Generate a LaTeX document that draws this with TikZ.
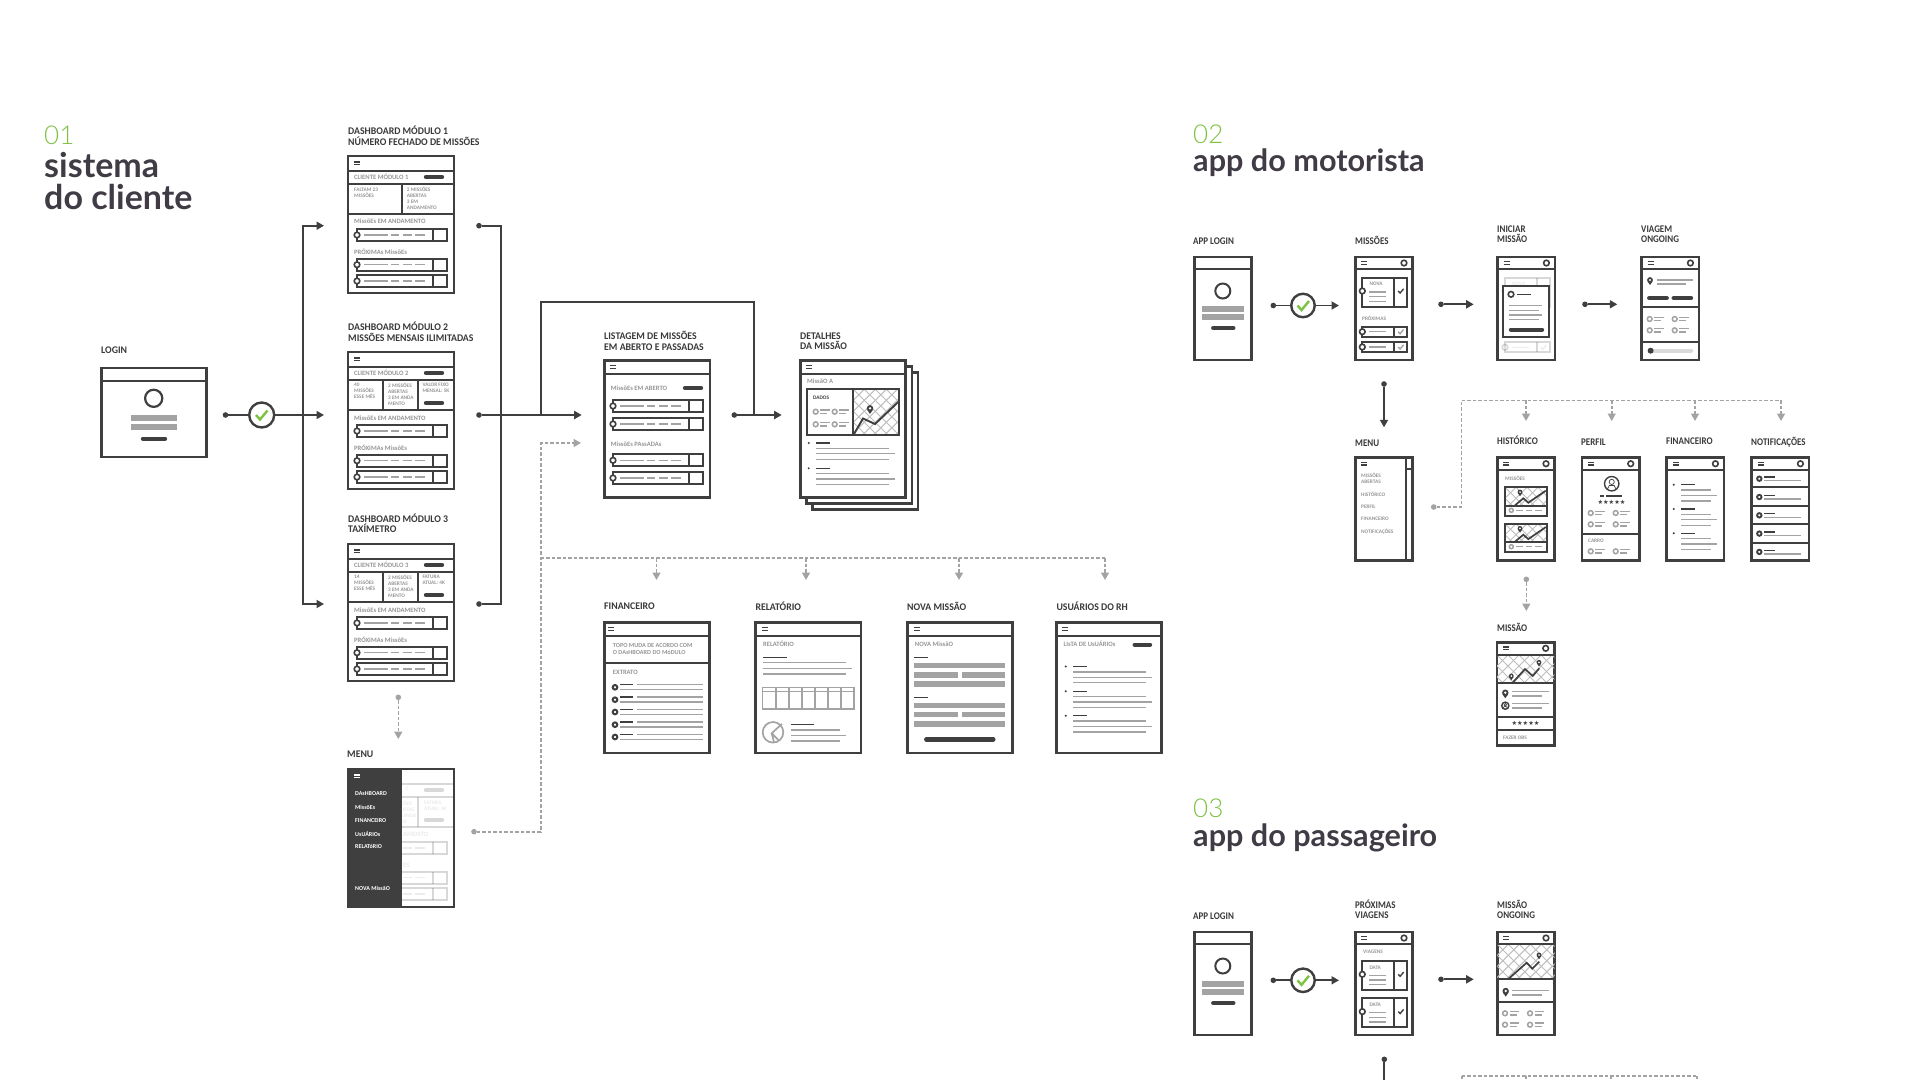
\documentclass[tikz,border=0pt]{standalone}
\usepackage{fontspec}
\setmainfont{Carlito}
\newfontfamily\titlefont{Lato}
\newfontfamily\numfont{Lato Light}
\newfontfamily\labelfont[FakeStretch=0.96]{Carlito}
\newfontfamily\applabelfont[FakeStretch=0.88]{Carlito}
\newfontfamily\starfont{DejaVu Sans}
\usepackage{xcolor}
\usetikzlibrary{arrows.meta, positioning}
\definecolor{ink}{HTML}{3F3F3F}
\definecolor{midgrey}{HTML}{A3A3A3}
\definecolor{textgrey}{HTML}{969696}
\definecolor{titleink}{HTML}{403B44}
\definecolor{leaf}{HTML}{7DC242}
\newcounter{wtnum}
\tikzset{%
	autoname/.code={\stepcounter{wtnum}\tikzset{name=wt\arabic{wtnum}}},
	screen/.style={
		rectangle,
		draw=ink,
		fill=white,
		line width=2.7pt,
		outer sep=0pt,
		inner sep=0pt,
		anchor=north west
	},
	wire/.style={draw=ink, line width=2.2pt},
	thin wire/.style={draw=ink, line width=1.9pt},
	label/.style={font=\labelfont\bfseries\fontsize{10.2}{10.6}\selectfont, text=ink!90!black, anchor=west, inner sep=0pt, align=left},
	app label/.style={label, font=\applabelfont\bfseries\fontsize{10.2}{10.6}\selectfont},
	wtext/.style={autoname, font=\bfseries\fontsize{6.6}{7}\selectfont, text=textgrey, anchor=west, inner sep=0pt, align=left},
	wsmall/.style={autoname, font=\bfseries\fontsize{5.3}{6}\selectfont, text=textgrey, anchor=north west, inner sep=0pt, align=left},
	section num/.style={font=\numfont\fontsize{26}{26}\selectfont, text=leaf, anchor=base west, inner sep=0pt},
	section title/.style={font=\titlefont\bfseries\fontsize{34}{32}\selectfont, text=titleink, anchor=base west, inner sep=0pt, align=left},
	app title/.style={section title, font=\titlefont\bfseries\fontsize{30.6}{32}\selectfont},
	flow dot/.style={circle, fill=ink, minimum size=5.6pt, inner sep=0pt, outer sep=0pt},
	grey dot/.style={circle, fill=midgrey, minimum size=5.6pt, inner sep=0pt, outer sep=0pt},
	ok ring/.style={circle, draw=ink, fill=white, line width=2.4pt, minimum size=25pt, inner sep=0pt, outer sep=0pt},
	line/.style={draw=ink, line width=1.8pt},
	arrow/.style={line, -{Triangle[length=7.5pt,width=8pt]}},
	dash line/.style={draw=midgrey, line width=1.6pt, dash pattern=on 3.5pt off 2pt},
	dash arrow/.style={dash line, -{Triangle[length=7.5pt,width=8pt]}}
}
\newcommand{\screen}[5]{\node[screen, minimum width={((#4)-(#2))*1pt}, minimum height={((#5)-(#3))*1pt}] (#1) at (#2,#3) {};}
\newcommand{\lbl}[4]{\node[label] (#1) at (#2,#3) {#4};}
\newcommand{\applbl}[4]{\node[app label] (#1) at (#2,#3) {#4};}
\newcommand{\wt}[3]{\node[wtext] at (#1,#2) {#3};}
\newcommand{\ws}[3]{\node[wsmall] at (#1,#2) {#3};}
\newcommand{\burger}[3][ink]{\draw[#1, line width=1.3pt] (#2-3,#3-1.3) -- (#2+3,#3-1.3) (#2-3,#3+1.3) -- (#2+3,#3+1.3);}
\newcommand{\ringmark}[2]{\draw[ink, fill=white, line width=1.6pt] (#1,#2) circle (2.8);}
\newcommand{\gline}[3]{\draw[midgrey, line width=1.3pt] (#1,#3) -- (#2,#3);}
\newcommand{\dline}[3]{\draw[ink, line width=1.3pt] (#1,#3) -- (#2,#3);}
\newcommand{\gbar}[4]{\fill[midgrey] (#1,#2) rectangle (#3,#4);}
\newcommand{\pill}[3]{\draw[ink, line width=4.4pt, line cap=round] (#1+2,#3) -- (#2-2,#3);}
\newcommand{\tickmark}[3]{\draw[#3, line width=1.4pt] (#1-2.6,#2) -- (#1-0.7,#2+2) -- (#1+2.8,#2-2.2);}
\newcommand{\listrow}[2]{%
	\draw[thin wire] (#1,#2-6) rectangle (#1+90,#2+6);
	\draw[thin wire] (#1+76,#2-6) -- (#1+76,#2+6);
	\gline{#1+7}{#1+31}{#2}
	\gline{#1+34}{#1+42}{#2}
	\gline{#1+46}{#1+55}{#2}
	\gline{#1+58}{#1+68}{#2}
	\ringmark{#1}{#2}
}
\newcommand{\iconrow}[2]{%
	\draw[midgrey, line width=1.5pt] (#1,#2) circle (2.4);
	\gline{#1+4.5}{#1+14}{#2-1.7}
	\gline{#1+4.5}{#1+11.5}{#2+1.7}
}
\newcommand{\infoblock}[3]{%
	\fill[ink] (#1,#2) circle (1.1);
	\dline{#1+7.5}{#1+21}{#2}
	\gline{#1+7.5}{#1+7.5+#3}{#2+5.4}
	\gline{#1+7.5}{#1+13.5+#3}{#2+10.8}
	\gline{#1+7.5}{#1+7.5+#3}{#2+16.2}
}
\newcommand{\hatchmap}[4]{%
	\begin{scope}
		\clip (#1,#2) rectangle (#3,#4);
		\foreach \k in {-8,...,16} {
			\draw[midgrey!70, line width=0.9pt] ({#1+\k*11},#2) -- ({#1+\k*11+((#4)-(#2))},#4);
			\draw[midgrey!70, line width=0.9pt] ({#1+\k*11},#2) -- ({#1+\k*11-((#4)-(#2))},#4);
		}
	\end{scope}
}
\newcommand{\pin}[3]{%
	\begin{scope}[shift={(#1,#2)}, scale=#3]
		\fill[ink] (0,0) circle (3.2);
		\fill[ink] (-2.9,1.4) -- (0,5.6) -- (2.9,1.4) -- cycle;
		\fill[white] (0,0) circle (1.3);
	\end{scope}
}
\newcommand{\usericon}[3]{%
	\begin{scope}[shift={(#1,#2)}, scale=#3]
		\draw[ink, line width=1.4pt] (0,0) circle (3.6);
		\draw[ink, line width=0.7pt] (0,-0.9) circle (1.3) (-2.1,2.6) -- (-1.2,0.9) -- (1.2,0.9) -- (2.1,2.6);
	\end{scope}
}
\newcommand{\fivestars}[3]{\node[autoname, font=\starfont\fontsize{#3}{#3}\selectfont, text=ink, inner sep=0pt] at (#1,#2) {★★★★★};}
% dashboard parts, top edge as argument
\newcommand{\dashframe}[1]{%
	\draw[wire] (348,#1+14.7) -- (454,#1+14.7);
	\draw[wire] (348,#1+28) -- (454,#1+28);
	\draw[wire] (348,#1+58) -- (454,#1+58);
	\listrow{357}{#1+79}
	\listrow{357}{#1+108.7}
	\listrow{357}{#1+125}
	\pill{424}{444}{#1+21}
}
\newcommand{\dashtext}[1]{%
	\wt{354}{#1+65.7}{MissõEs EM ANDAMENTO}
	\wt{354}{#1+95.7}{PRÓXIMAs MissõEs}
}
\newcommand{\dashcols}[1]{%
	\draw[wire] (383,#1+28) -- (383,#1+58);
	\draw[wire] (418,#1+28) -- (418,#1+58);
	\pill{424}{444}{#1+51}
}
% app phones
\newcommand{\phone}[3]{%
	\screen{#1}{#2}{#3}{#2+57.4}{#3+103}
	\draw[wire] (#2,#3+12.3) -- (#2+57.4,#3+12.3);
}
\newcommand{\phonebar}[2]{\burger{#1+9}{#2+6}\ringmark{#1+48.7}{#2+6}}
\newcommand{\applogin}[3]{%
	\phone{#1}{#2}{#3}
	\draw[ink, line width=2pt] (#2+28.5,#3+34) circle (7.5);
	\gbar{#2+8}{#3+48.5}{#2+49.5}{#3+54.5}
	\gbar{#2+8}{#3+56.5}{#2+49.5}{#3+62.5}
	\pill{#2+17}{#2+41}{#3+71}
}
\newcommand{\appcard}[3]{%
	\draw[thin wire] (#1,#2) rectangle (#1+44.7,#2+29);
	\draw[thin wire] (#1+32,#2) -- (#1+32,#2+29);
	\wt{#1+7}{#2+6.5}{\fontsize{5.3}{6}\selectfont #3}
	\gline{#1+7}{#1+24}{#2+14.3}
	\gline{#1+7}{#1+24}{#2+19}
	\gline{#1+7}{#1+24}{#2+23.7}
	\ringmark{#1}{#2+13.3}
	\tickmark{#1+38.5}{#2+13.3}{ink}
}
\newcommand{\approw}[2]{%
	\draw[thin wire] (#1,#2-5) rectangle (#1+44.7,#2+5);
	\draw[thin wire] (#1+32,#2-5) -- (#1+32,#2+5);
	\gline{#1+7}{#1+24}{#2}
	\ringmark{#1}{#2}
	\tickmark{#1+38.5}{#2}{midgrey}
}
\begin{document}
\begin{tikzpicture}[x=1pt, y=-1pt]
	\useasboundingbox (0,0) rectangle (1920,1080);
	% 01
	\node[section num] (num1) at (44,144) {01};
	\node[section title] (title1) at (44,209) {sistema\\do cliente};
	% login
	\screen{login}{101.2}{368}{206.5}{457}
	\draw[wire] (101,381) -- (206.7,381);
	\draw[ink, line width=2.2pt] (153.7,398.3) circle (8.6);
	\gbar{131}{415}{177}{421}
	\gbar{131}{424}{177}{430}
	\pill{141}{167}{438.7}
	\lbl{loginLbl}{101}{349.7}{LOGIN}
	% dashboards
	\screen{dashA}{348}{156}{454}{293}
	\dashframe{156}
	\dashtext{156}
	\draw[wire] (401.7,184) -- (401.7,214);
	\wt{354}{176.7}{CLIENTE MÓDULO 1}
	\ws{354}{187.5}{FALTAM 23\\MISSÕES}
	\ws{406.7}{187}{2 MISSÕES\\ABERTAS\\3 EM\\ANDAMENTO}
	\burger{357.3}{163.3}
	\lbl{dashALbl}{348}{136}{DASHBOARD MÓDULO 1\\NÚMERO FECHADO DE MISSÕES}

	\screen{dashB}{348}{352}{454}{489}
	\dashframe{352}
	\dashtext{352}
	\dashcols{352}
	\wt{354}{372.7}{CLIENTE MÓDULO 2}
	\ws{354}{383}{40\\MISSÕES\\ESSE MÊS}
	\ws{388}{383}{2 MISSÕES\\ABERTAS\\3 EM ANDA\\MENTO}
	\ws{422.3}{383}{VALOR FIXO\\MENSAL: 5K}
	\burger{357.3}{359.3}
	\lbl{dashBLbl}{348}{331.7}{DASHBOARD MÓDULO 2\\MISSÕES MENSAIS ILIMITADAS}

	\screen{dashC}{348}{544}{454}{681}
	\dashframe{544}
	\dashtext{544}
	\dashcols{544}
	\wt{354}{564.7}{CLIENTE MÓDULO 3}
	\ws{354}{575}{14\\MISSÕES\\ESSE MÊS}
	\ws{388}{575}{2 MISSÕES\\ABERTAS\\3 EM ANDA\\MENTO}
	\ws{422.3}{575}{FATURA\\ATUAL: 4K}
	\burger{357.3}{551.3}
	\lbl{dashCLbl}{348}{523.2}{DASHBOARD MÓDULO 3\\TAXÍMETRO}

	% menu over faded dashboard
	\screen{menu}{348}{769}{454}{907}
	\begin{scope}[opacity=.2]
		\dashframe{769}
		\dashcols{769}
		\ws{405}{787}{3}
		\ws{403}{801}{ÕES\\RTAS\\ANDA\\O}
		\ws{424}{801}{FATURA\\ATUAL: 4K}
		\wt{403}{834.5}{AMENTO}
		\wt{403}{865}{ES}
	\end{scope}
	\fill[ink] (346.6,767.6) rectangle (401.7,908.4);
	\burger[white]{357}{776.3}
	\foreach \y/\t in {793.3/DAsHBOARD, 807.5/MissõEs, 820.7/FINANCEIRO, 834/UsUÁRIOs, 846.7/RELATóRIO, 888.7/NOVA MissãO} {
		\node[wtext, text=white, font=\bfseries\fontsize{6}{7}\selectfont] at (355,\y) {\t};
	}
	\lbl{menuLbl}{347}{754}{MENU}

	% listagem
	\screen{listagem}{604.5}{360.5}{710}{497.5}
	\draw[wire] (604.5,374) -- (710,374);
	\burger{613.3}{367}
	\wt{610.7}{387.7}{MissõEs EM ABERTO}
	\pill{683}{703}{388}
	\listrow{613}{406}
	\listrow{613}{424}
	\wt{610.7}{443.7}{MissõEs PAssADAs}
	\listrow{613}{460.3}
	\listrow{613}{478}
	\lbl{listagemLbl}{604}{341}{LISTAGEM DE MISSÕES\\EM ABERTO E PASSADAS}

	% detalhes
	\screen{sheetC}{812.5}{372.5}{918}{509.5}
	\screen{sheetB}{806.5}{366.5}{912}{503.5}
	\screen{detalhes}{800.5}{360.5}{905.5}{497.5}
	\draw[wire] (800.5,374) -- (905.5,374);
	\burger{809.3}{367}
	\wt{807}{380.7}{MissãO A}
	\hatchmap{853.3}{389.3}{899}{435}
	\draw[wire] (806.7,389.3) rectangle (899,435);
	\draw[wire] (853.3,389.3) -- (853.3,435);
	\draw[ink, line width=1.9pt] (854,434) -- (863,418.5) -- (875,424) -- (898.5,401.7);
	\pin{870}{408.3}{1}
	\node[wtext, text=ink, font=\bfseries\fontsize{5.3}{6}\selectfont] at (813,398) {DADOS};
	\iconrow{815.7}{411.7}
	\iconrow{834.7}{411.7}
	\iconrow{815.7}{424.3}
	\iconrow{834.7}{424.3}
	\infoblock{808.7}{443}{73}
	\infoblock{808.7}{468.3}{73}
	\lbl{detalhesLbl}{800}{341}{DETALHES\\DA MISSÃO}

	% financeiro
	\screen{financeiro}{604.5}{622.2}{709.8}{753}
	\draw[wire] (604.5,635.7) -- (709.8,635.7);
	\draw[wire] (604.5,662.7) -- (709.8,662.7);
	\burger{611}{629}
	\wt{612.7}{645.7}{\fontsize{6.2}{7}\selectfont TOPO MUDA DE ACORDO COM}
	\wt{612.7}{652.7}{\fontsize{6.2}{7}\selectfont O DAsHBOARD DO MóDULO}
	\wt{612.7}{672.7}{EXTRATO}
	\foreach \y in {687.3,699.7,712,724.7,737} {
		\draw[ink, line width=2pt] (615,\y) circle (2.3);
		\dline{620}{633}{\y-2.7}
		\gline{637}{702.7}{\y-2.7}
		\gline{620}{702.7}{\y+2.3}
	}
	\lbl{financeiroLbl}{604}{606}{FINANCEIRO}

	% relatorio
	\screen{relatorio}{755.5}{622.2}{861}{753}
	\draw[wire] (755.5,635.7) -- (861,635.7);
	\burger{764.7}{629}
	\wt{763}{643.7}{RELATÓRIO}
	\dline{763}{787}{657.7}
	\gline{763}{845.7}{662.7}
	\gline{763}{851.7}{668.7}
	\gline{763}{845.7}{674}
	\draw[midgrey, line width=1.5pt] (762.7,687.3) rectangle (854,709);
	\draw[midgrey, line width=1.5pt] (762.7,691.7) -- (854,691.7);
	\foreach \i in {1,...,6} {
		\draw[midgrey, line width=1.5pt] ({762.7+\i*13.05},687.3) -- ({762.7+\i*13.05},709);
	}
	\draw[midgrey, line width=1.7pt] (773,732.3) circle (10.3);
	\draw[midgrey, line width=1.7pt] (782,723.8) -- (771.7,733.3) -- (778.3,740) (771.7,733.3) -- (774,742.5);
	\dline{790.7}{813.7}{724.3}
	\gline{790.7}{839.7}{730}
	\gline{790.7}{845.7}{735.3}
	\gline{790.7}{839.7}{741}
	\lbl{relatorioLbl}{755.3}{606}{RELATÓRIO}

	% nova missao
	\screen{novaMissao}{907.2}{622.2}{1012.8}{753}
	\draw[wire] (907.2,635.7) -- (1012.8,635.7);
	\burger{916.7}{629}
	\wt{914.7}{643.7}{NOVA MissãO}
	\dline{914}{928}{657.7}
	\gbar{914.3}{663}{1005.3}{668.3}
	\gbar{914.3}{672}{958}{677.7}
	\gbar{961.7}{672}{1005.3}{677.7}
	\gbar{914.3}{681.3}{1005.3}{686.7}
	\dline{914}{928}{697.3}
	\gbar{914.3}{703}{1005.3}{708.3}
	\gbar{914.3}{712}{958}{717.3}
	\gbar{961.7}{712}{1005.3}{717.3}
	\gbar{914.3}{721}{1005.3}{726.7}
	\pill{924.3}{995.3}{739.3}
	\lbl{novaMissaoLbl}{907}{606}{NOVA MISSÃO}

	% usuarios
	\screen{usuarios}{1056.2}{622.2}{1161.8}{753}
	\draw[wire] (1056.2,635.7) -- (1161.8,635.7);
	\burger{1065}{629}
	\wt{1063.3}{643.7}{LIsTA DE UsUÁRIOs}
	\pill{1132.7}{1152}{644.7}
	\infoblock{1065.8}{666.5}{72.7}
	\infoblock{1065.8}{691.2}{72.7}
	\infoblock{1065.8}{715.7}{72.7}
	\lbl{usuariosLbl}{1056.3}{606}{USUÁRIOS DO RH}

	% fluxo do sistema
	\node[flow dot] (loginOut) at (225.5,415) {};
	\node[ok ring] (loginOk) at (261.7,415) {};
	\draw[leaf, line width=2.4pt] (256,415) -- (260,419.5) -- (267.5,410.5);
	\coordinate (split) at (302.7,415);
	\coordinate (dashAIn) at (324,225.7);
	\coordinate (dashBIn) at (324,415);
	\coordinate (dashCIn) at (324,604);
	\draw[line] (loginOut) -- (loginOk);
	\draw[arrow] (loginOk) -- (dashBIn);
	\draw[arrow] (split) |- (dashAIn);
	\draw[arrow] (split) |- (dashCIn);
	\node[flow dot] (dashAOut) at (479,225.7) {};
	\node[flow dot] (dashBOut) at (479,415) {};
	\node[flow dot] (dashCOut) at (479,604) {};
	\coordinate (merge) at (501,415);
	\coordinate (listIn) at (581.7,415);
	\draw[line] (dashAOut) -| (merge);
	\draw[line] (dashCOut) -| (merge);
	\draw[arrow] (dashBOut) -- (listIn);
	\coordinate (loopA) at (540.7,415);
	\coordinate (loopUpA) at (540.7,301.7);
	\coordinate (loopUpB) at (754,301.7);
	\coordinate (loopB) at (754,415);
	\draw[line] (loopA) -- (loopUpA) -- (loopUpB) -- (loopB);
	\node[flow dot] (listOut) at (734.3,415) {};
	\coordinate (detalhesIn) at (781.7,415);
	\draw[arrow] (listOut) -- (detalhesIn);
	\node[grey dot] (dashCDown) at (398.3,697.3) {};
	\coordinate (menuIn) at (398.3,739);
	\draw[dash arrow] (dashCDown) -- (menuIn);
	\node[grey dot] (menuOut) at (474,831.7) {};
	\coordinate (menuCorner) at (540.7,831.7);
	\coordinate (listDash) at (581,443);
	\draw[dash arrow] (menuOut) -- (menuCorner) |- (listDash);
	\coordinate (branchEnd) at (1105,558);
	\draw[dash line] (540.7,558) -- (branchEnd);
	\foreach \n/\x in {financeiro/656.5, relatorio/806, nova/959, usuarios/1105} {
		\coordinate (drop\n) at (\x,558);
		\coordinate (tip\n) at (\x,580);
		\draw[dash arrow] (drop\n) -- (tip\n);
	}

	% 02
	\node[section num] (num2) at (1193,143) {02};
	\node[app title] (title2) at (1193,171) {app do motorista};
	\applogin{appLogin}{1194.3}{257}
	\applbl{appLoginLbl}{1193}{240.7}{APP LOGIN}
	\phone{missoes}{1355.3}{257}
	\phonebar{1355.3}{257}
	\appcard{1362.3}{277.7}{NOVA}
	\wt{1362}{318}{\fontsize{5.3}{6}\selectfont PRÓXIMAS}
	\approw{1362.3}{331.7}
	\approw{1362.3}{347}
	\applbl{missoesLbl}{1355}{240.7}{MISSÕES}
	\phone{iniciar}{1497.7}{257}
	\phonebar{1497.7}{257}
	\begin{scope}[opacity=.2]
		\appcard{1505}{277.7}{NOVA}
		\approw{1505}{347.3}
	\end{scope}
	\draw[wire, fill=white] (1503.3,286) rectangle (1549.3,337.3);
	\ringmark{1511}{294.3}
	\dline{1517}{1531}{294.3}
	\gline{1509}{1542}{305.7}
	\gline{1509}{1539}{310.3}
	\gline{1509}{1542}{315}
	\gline{1509}{1539}{319.7}
	\pill{1509}{1544}{329.7}
	\applbl{iniciarLbl}{1497}{234.2}{INICIAR\\MISSÃO}
	\phone{viagem}{1641.7}{257}
	\phonebar{1641.7}{257}
	\draw[wire] (1641.7,306.7) -- (1699.1,306.7);
	\draw[wire] (1641.7,341.7) -- (1699.1,341.7);
	\pin{1650}{280}{0.9}
	\gline{1657}{1693}{280}
	\gline{1657}{1686}{284}
	\pill{1647.3}{1668.7}{298}
	\pill{1671.7}{1693}{298}
	\iconrow{1649.7}{319}
	\iconrow{1674.7}{319}
	\iconrow{1649.7}{330.3}
	\iconrow{1674.7}{330.3}
	\draw[midgrey!40, line width=4.4pt, line cap=round] (1650,350.7) -- (1691,350.7);
	\fill[ink] (1650.6,350.7) circle (3);
	\applbl{viagemLbl}{1641}{234.2}{VIAGEM\\ONGOING}

	\node[flow dot] (appLoginOut) at (1273.3,305.5) {};
	\node[ok ring, minimum size=23.5pt] (appLoginOk) at (1303,305.5) {};
	\draw[leaf, line width=2.4pt] (1297.5,305.5) -- (1301.5,310) -- (1309,301);
	\coordinate (missoesIn) at (1339,305.5);
	\draw[line] (appLoginOut) -- (appLoginOk);
	\draw[arrow] (appLoginOk) -- (missoesIn);
	\node[flow dot] (missoesOut) at (1441,304.3) {};
	\coordinate (iniciarIn) at (1473.7,304.3);
	\draw[arrow] (missoesOut) -- (iniciarIn);
	\node[flow dot] (iniciarOut) at (1585,304.3) {};
	\coordinate (viagemIn) at (1617.3,304.3);
	\draw[arrow] (iniciarOut) -- (viagemIn);
	\node[flow dot] (missoesDown) at (1384,384) {};
	\coordinate (appMenuIn) at (1384,427.3);
	\draw[arrow] (missoesDown) -- (appMenuIn);

	% menu do app
	\screen{appMenu}{1355.3}{457.7}{1412.7}{560.7}
	\draw[wire] (1405.7,457.7) -- (1405.7,560.7);
	\draw[wire] (1405.7,469.3) -- (1412.7,469.3);
	\burger{1364}{463.7}
	\ws{1361}{473}{MISSÕES\\ABERTAS}
	\foreach \y/\t in {494/HISTÓRICO, 507/PERFIL, 519/FINANCEIRO, 532/NOTIFICAÇÕES} {
		\node[wsmall, anchor=west] at (1361,\y) {\t};
	}
	\applbl{appMenuLbl}{1355}{443.7}{MENU}

	% historico
	\phone{historico}{1497.3}{457.7}
	\phonebar{1497.3}{457.7}
	\ws{1505}{476}{MISSÕES}
	\foreach \y in {487.3,523.7} {
		\hatchmap{1505}{\y}{1547}{\y+18.4}
		\draw[thin wire] (1505,\y) rectangle (1547,\y+28.7);
		\draw[thin wire] (1505,\y+18.4) -- (1547,\y+18.4);
		\draw[ink, line width=1.7pt] (1515,\y+18) -- (1523.3,\y+11) -- (1528.3,\y+15.4) -- (1545.7,\y+3.4);
		\pin{1520}{\y+4.7}{0.75}
		\draw[midgrey, line width=1.5pt] (1511.3,\y+23) circle (2);
		\gline{1516}{1523}{\y+23}
		\gline{1526}{1532}{\y+23}
		\gline{1535}{1542}{\y+23}
	}
	\applbl{historicoLbl}{1497}{440.7}{HISTÓRICO}

	% perfil
	\phone{perfil}{1582}{457.7}
	\phonebar{1582}{457.7}
	\usericon{1611.7}{483.7}{2}
	\dline{1600}{1604}{496}
	\dline{1606}{1622}{496}
	\fivestars{1611.5}{502.3}{6.2}
	\iconrow{1590.7}{513}
	\iconrow{1615.7}{513}
	\iconrow{1590.7}{524.3}
	\iconrow{1615.7}{524.3}
	\draw[wire] (1582,533.7) -- (1639.4,533.7);
	\ws{1588}{538.5}{CARRO}
	\iconrow{1590.7}{551.3}
	\iconrow{1615.7}{551.3}
	\applbl{perfilLbl}{1581}{442}{PERFIL}

	% financeiro do app
	\phone{appFinanceiro}{1666.7}{457.7}
	\phonebar{1666.7}{457.7}
	\infoblock{1673.7}{484.7}{30}
	\infoblock{1673.7}{509}{30}
	\infoblock{1673.7}{533.3}{30}
	\applbl{appFinanceiroLbl}{1666}{440.7}{FINANCEIRO}

	% notificacoes
	\phone{notificacoes}{1751.7}{457.7}
	\phonebar{1751.7}{457.7}
	\foreach \y in {487.3,506,524.3,542.7} {
		\draw[wire] (1751.7,\y) -- (1809.1,\y);
	}
	\foreach \y in {478.7,497,515.3,533.6,551.9} {
		\draw[ink, line width=1.9pt] (1759.3,\y) circle (2.2);
		\dline{1764}{1775}{\y-1.7}
		\gline{1764}{1801}{\y+2}
	}
	\applbl{notificacoesLbl}{1751}{442}{NOTIFICAÇÕES}

	\node[grey dot] (appMenuOut) at (1433.7,507) {};
	\coordinate (appCorner) at (1461.3,507);
	\coordinate (appTop) at (1781,400.3);
	\draw[dash line] (appMenuOut) -- (appCorner) |- (appTop);
	\foreach \n/\x in {hist/1526, perf/1611.7, fin/1695, notif/1781} {
		\coordinate (drop\n) at (\x,400.3);
		\coordinate (tip\n) at (\x,421);
		\draw[dash arrow] (drop\n) -- (tip\n);
	}
	\node[grey dot] (historicoDown) at (1526.3,579.3) {};
	\coordinate (missaoIn) at (1526.3,611);
	\draw[dash arrow] (historicoDown) -- (missaoIn);

	% missao
	\phone{missao}{1497}{642.3}
	\phonebar{1497}{642.3}
	\hatchmap{1497}{655}{1554.4}{683.3}
	\draw[wire] (1497,683.3) -- (1554.4,683.3);
	\draw[wire] (1497,716.7) -- (1554.4,716.7);
	\draw[wire] (1497,730) -- (1554.4,730);
	\draw[wire] (1497,654.6) -- (1554.4,654.6);
	\draw[ink, line width=1.7pt] (1512.3,683) -- (1525,669) -- (1532.7,676) -- (1539.3,668.3);
	\pin{1511.3}{676}{0.75}
	\pin{1539}{662.3}{0.75}
	\pin{1505.3}{692.7}{1}
	\usericon{1505.3}{705.7}{1}
	\gline{1512}{1549}{691.3}
	\gline{1512}{1542}{696}
	\gline{1512}{1549}{703.7}
	\gline{1512}{1542}{708}
	\fivestars{1525.5}{723.5}{6.2}
	\ws{1503}{735.5}{FAZER OBS}
	\applbl{missaoLbl}{1497}{627.3}{MISSÃO}

	% 03
	\node[section num] (num3) at (1193,817.5) {03};
	\node[app title] (title3) at (1193,846) {app do passageiro};
	\applogin{paxLogin}{1194.3}{932}
	\applbl{paxLoginLbl}{1193}{915.7}{APP LOGIN}
	\phone{proximas}{1355.3}{932}
	\phonebar{1355.3}{932}
	\ws{1363}{949.5}{VIAGENS}
	\appcard{1362.3}{961}{DATA}
	\appcard{1362.3}{998.3}{DATA}
	\applbl{proximasLbl}{1355}{909.2}{PRÓXIMAS\\VIAGENS}
	\phone{ongoing}{1497.3}{932}
	\phonebar{1497.3}{932}
	\hatchmap{1497.3}{944.3}{1554.7}{979.3}
	\draw[wire] (1497.3,944.3) -- (1554.7,944.3);
	\draw[wire] (1497.3,979.3) -- (1554.7,979.3);
	\draw[wire] (1497.3,1002.3) -- (1554.7,1002.3);
	\draw[ink, line width=1.7pt] (1508.3,979) -- (1526.7,962.7) -- (1532.3,968.7) -- (1539.3,961.7);
	\pin{1539}{955}{0.75}
	\pin{1505.7}{991}{1}
	\gline{1512}{1549}{990.7}
	\gline{1512}{1542}{995}
	\iconrow{1505}{1013.3}
	\iconrow{1530}{1013.3}
	\iconrow{1505}{1024.7}
	\iconrow{1530}{1024.7}
	\applbl{ongoingLbl}{1497}{909.2}{MISSÃO\\ONGOING}

	\node[flow dot] (paxLoginOut) at (1273.3,980.3) {};
	\node[ok ring, minimum size=23.5pt] (paxLoginOk) at (1303,980.3) {};
	\draw[leaf, line width=2.4pt] (1297.5,980.3) -- (1301.5,984.8) -- (1309,975.8);
	\coordinate (proximasIn) at (1339,980.3);
	\draw[line] (paxLoginOut) -- (paxLoginOk);
	\draw[arrow] (paxLoginOk) -- (proximasIn);
	\node[flow dot] (proximasOut) at (1441,979.3) {};
	\coordinate (ongoingIn) at (1473.7,979.3);
	\draw[arrow] (proximasOut) -- (ongoingIn);
	\node[flow dot] (proximasDown) at (1384.3,1059.3) {};
	\coordinate (pageEnd) at (1384.3,1080);
	\draw[line] (proximasDown) -- (pageEnd);
	\coordinate (paxLeft) at (1461.7,1075.7);
	\coordinate (paxRight) at (1696.7,1075.7);
	\draw[dash line] (paxLeft) -- (paxRight);
	\foreach \n/\x in {a/1461.7, b/1525.7, c/1611, d/1696.7} {
		\coordinate (paxDrop\n) at (\x,1075.7);
		\coordinate (paxEnd\n) at (\x,1080);
		\draw[dash line] (paxDrop\n) -- (paxEnd\n);
	}
\end{tikzpicture}
\end{document}
